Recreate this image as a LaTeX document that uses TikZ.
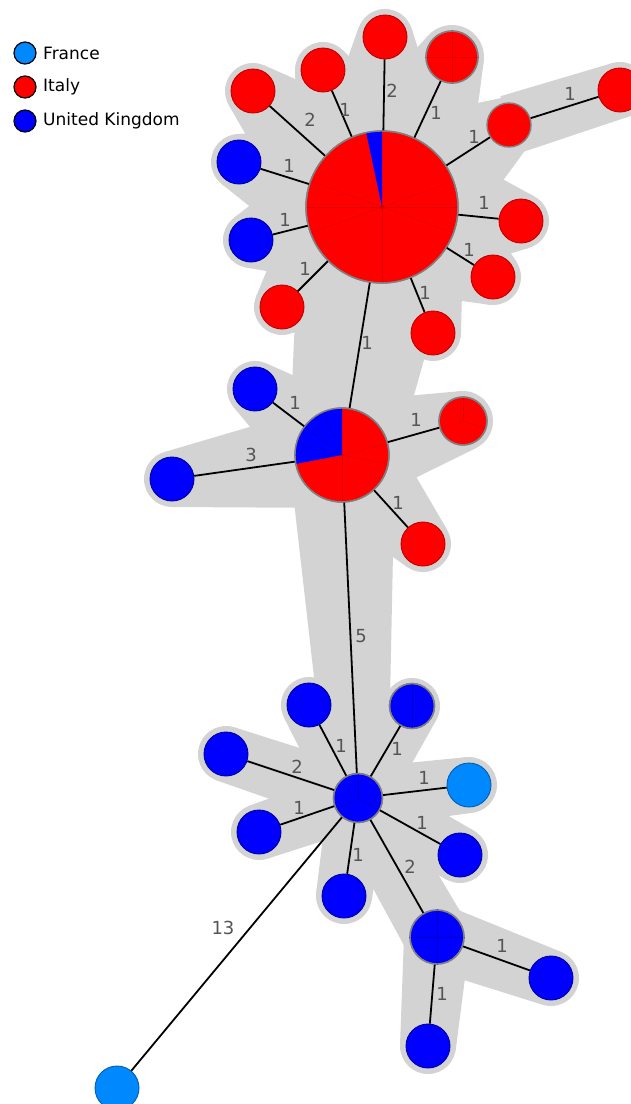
\documentclass[tikz,border=0pt]{standalone}
\usepackage{fontspec}
\setmainfont{DejaVu Sans}
\usetikzlibrary{calc}
\pgfdeclarelayer{bg}
\pgfsetlayers{bg,main}
\definecolor{halo}{RGB}{211,211,211}
\definecolor{itred}{RGB}{255,0,0}
\definecolor{ukblue}{RGB}{0,0,255}
\definecolor{frblue}{RGB}{0,136,255}
\definecolor{lblgray}{RGB}{85,85,85}
\definecolor{hubgray}{RGB}{128,128,128}
\tikzset{
  base/.style={circle, inner sep=0pt, minimum size=44pt, line width=0.9pt},
  itn/.style={base, fill=itred, draw=itred!75!black},
  ukn/.style={base, fill=ukblue, draw=ukblue!60!black},
  frn/.style={base, fill=frblue, draw=frblue!70!black},
  grayb/.style={draw=hubgray, line width=1.4pt},
  edge/.style={line width=1.8pt, black},
  lbl/.style={font=\fontsize{18}{20}\selectfont, text=lblgray, inner sep=0pt},
  legtext/.style={font=\fontsize{17}{19}\selectfont, anchor=west, inner sep=0pt},
  legdot/.style={circle, inner sep=0pt, minimum width=22pt, minimum height=21pt, draw=black, line width=1.2pt},
  faintr/.style={itred!88!black, line width=0.35pt},
  faintb/.style={ukblue!80!black, line width=0.35pt},
}
\newcommand\halohull[4]{%
  \fill[halo] let \p1=(#1), \p2=(#2),
    \n1={atan2(\y2-\y1,\x2-\x1)}, \n2={veclen(\x2-\x1,\y2-\y1)},
    \n3={acos((#3-#4)/\n2)} in
    ($(\p1)+(\n1+\n3:#3pt)$) -- ($(\p2)+(\n1+\n3:#4pt)$) --
    ($(\p2)+(\n1-\n3:#4pt)$) -- ($(\p1)+(\n1-\n3:#3pt)$) -- cycle;}
\begin{document}
\begin{tikzpicture}[x=1pt,y=1pt]
\useasboundingbox (0,0) rectangle (631,-1104);
\clip (0,0) rectangle (631,-1104);

% ---------- nodes ----------
% hub 1
\node[itn, grayb, minimum size=152pt] (H1) at (382,-207) {};
\foreach \ang in {0,20,160,180,200,-20,-90} \draw[faintr] (H1.center) -- ++(\ang:75pt);
\fill[ukblue] (H1.center) -- ++(90:76pt) arc[start angle=90,end angle=102,radius=76pt] -- cycle;
\draw[grayb] (H1.center) circle (76pt);
\fill[itred!75!black] (H1.center) circle (2pt);

\node[itn] (a1) at (385,-37) {};
\node[itn] (a2) at (323,-70) {};
\node[itn, grayb, minimum size=52pt] (a3) at (452,-57) {};
\draw[faintr] (a3.west) -- (a3.east) (a3.north) -- (a3.south);
\draw[grayb] (a3.center) circle (26pt);
\node[itn] (a4) at (253,-91) {};
\node[itn, grayb] (a5) at (509,-125) {};
\node[itn] (a5b) at (620,-90) {};
\node[ukn] (a6) at (239,-162) {};
\node[ukn] (a7) at (251,-240) {};
\node[itn] (a8) at (282,-307) {};
\node[itn] (a9) at (521,-221) {};
\node[itn] (a10) at (493,-277) {};
\node[itn] (a11) at (433,-333) {};

% hub 2
\node[itn, grayb, minimum size=94pt] (H2) at (342,-455) {};
\fill[ukblue] (H2.center) -- ++(90:47pt) arc[start angle=90,end angle=191,radius=47pt] -- cycle;
\foreach \ang in {112,143,165} \draw[faintb] (H2.center) -- ++(\ang:46pt);
\foreach \ang in {14,-11,-90} \draw[faintr] (H2.center) -- ++(\ang:46pt);
\draw[grayb] (H2.center) circle (47pt);
\node[ukn] (b1) at (255,-389) {};
\node[ukn] (b2) at (172,-479) {};
\node[itn, grayb, minimum size=48pt] (b3) at (463,-421) {};
\foreach \ang in {90,200,340} \draw[faintr] (b3.center) -- ++(\ang:23pt);
\draw[grayb] (b3.center) circle (24pt);
\node[itn] (b4) at (423,-544) {};

% hub 3
\node[ukn, grayb, minimum size=49pt] (H3) at (358,-798) {};
\foreach \ang in {90,210,330} \draw[faintb] (H3.center) -- ++(\ang:24pt);
\draw[grayb] (H3.center) circle (24.5pt);
\node[ukn] (c1) at (309,-705) {};
\node[ukn, grayb, minimum size=45pt] (c2) at (412,-706) {};
\draw[faintb] (c2.north) -- (c2.south);
\draw[grayb] (c2.center) circle (22.5pt);
\node[ukn] (c3) at (226,-754) {};
\node[frn] (c4) at (469,-785) {};
\node[ukn] (c5) at (259,-832) {};
\node[ukn] (c6) at (460,-855) {};
\node[ukn] (c7) at (344,-896) {};

% hub 4
\node[ukn, grayb, minimum size=54pt] (H4) at (437,-937) {};
\draw[faintb] (H4.west) -- (H4.east) (H4.north) -- (H4.south);
\draw[grayb] (H4.center) circle (27pt);
\node[ukn] (d1) at (551,-978) {};
\node[ukn] (d2) at (428,-1046) {};
\node[frn] (fr) at (117,-1088) {};

% ---------- halo ----------
\begin{pgfonlayer}{bg}
  \fill[white] (0,0) rectangle (631,-1104);
  \foreach \nd in {a1,a2,a4,a5,a6,a7,a8,a9,a10,a11}
    {\halohull{H1}{\nd}{82}{28}}
  \halohull{H1}{a3}{82}{32}
  \halohull{a5}{a5b}{30}{28}
  \halohull{H1}{H2}{82}{53}
  \foreach \nd in {b1,b2,b4} {\halohull{H2}{\nd}{53}{28}}
  \halohull{H2}{b3}{53}{30}
  \halohull{H2}{H3}{53}{30}
  \foreach \nd in {c1,c2,c3,c4,c5,c6,c7} {\halohull{H3}{\nd}{30}{28}}
  \halohull{H3}{H4}{30}{33}
  \foreach \nd in {d1,d2} {\halohull{H4}{\nd}{33}{28}}
  \fill[halo] (H1.center) circle (82pt) (H2.center) circle (53pt)
    (H3.center) circle (30pt) (H4.center) circle (33pt) (a3.center) circle (32pt)
    (b3.center) circle (30pt);
  \foreach \nd in {a1,a2,a4,a5,a5b,a6,a7,a8,a9,a10,a11,b1,b2,b4,c1,c2,c3,c4,c5,c6,c7,d1,d2}
    {\fill[halo] (\nd.center) circle (28pt);}
\end{pgfonlayer}

% ---------- edges ----------
\draw[edge] (H1) -- (a1) node[lbl] at (392,-91) {2};
\draw[edge] (H1) -- (a2) node[lbl] at (345,-110) {1};
\draw[edge] (H1) -- (a3) node[lbl] at (436,-113) {1};
\draw[edge] (H1) -- (a4) node[lbl] at (310,-120) {2};
\draw[edge] (H1) -- (a5) node[lbl] at (474,-137) {1};
\draw[edge] (a5) -- (a5b) node[lbl] at (570,-94) {1};
\draw[edge] (H1) -- (a6) node[lbl] at (289,-166) {1};
\draw[edge] (H1) -- (a7) node[lbl] at (285,-220) {1};
\draw[edge] (H1) -- (a8) node[lbl] at (305,-269) {1};
\draw[edge] (H1) -- (a9) node[lbl] at (484,-203) {1};
\draw[edge] (H1) -- (a10) node[lbl] at (469,-250) {1};
\draw[edge] (H1) -- (a11) node[lbl] at (425,-293) {1};
\draw[edge] (H1) -- (H2) node[lbl] at (367,-343) {1};
\draw[edge] (H2) -- (b1) node[lbl] at (295,-403) {1};
\draw[edge] (H2) -- (b2) node[lbl] at (251,-455) {3};
\draw[edge] (H2) -- (b3) node[lbl] at (416,-420) {1};
\draw[edge] (H2) -- (b4) node[lbl] at (398,-503) {1};
\draw[edge] (H2) -- (H3) node[lbl] at (361,-636) {5};
\draw[edge] (H3) -- (c1) node[lbl] at (341,-746) {1};
\draw[edge] (H3) -- (c2) node[lbl] at (397,-749) {1};
\draw[edge] (H3) -- (c3) node[lbl] at (297,-767) {2};
\draw[edge] (H3) -- (c4) node[lbl] at (424,-778) {1};
\draw[edge] (H3) -- (c5) node[lbl] at (299,-808) {1};
\draw[edge] (H3) -- (c6) node[lbl] at (422,-823) {1};
\draw[edge] (H3) -- (c7) node[lbl] at (358,-855) {1};
\draw[edge] (H3) -- (H4) node[lbl] at (410,-867) {2};
\draw[edge] (H3) -- (fr) node[lbl] at (223,-928) {13};
\draw[edge] (H4) -- (d1) node[lbl] at (502,-946) {1};
\draw[edge] (H4) -- (d2) node[lbl] at (442,-994) {1};

% ---------- legend ----------
\node[legdot, fill=frblue] (lf) at (25,-53) {};
\node[legtext] (lft) at (43,-53) {France};
\node[legdot, fill=itred] (li) at (25,-87) {};
\node[legtext] (lit) at (43,-87) {Italy};
\node[legdot, fill=ukblue] (lu) at (25,-121) {};
\node[legtext] (lut) at (43,-121) {United Kingdom};
\end{tikzpicture}
\end{document}
